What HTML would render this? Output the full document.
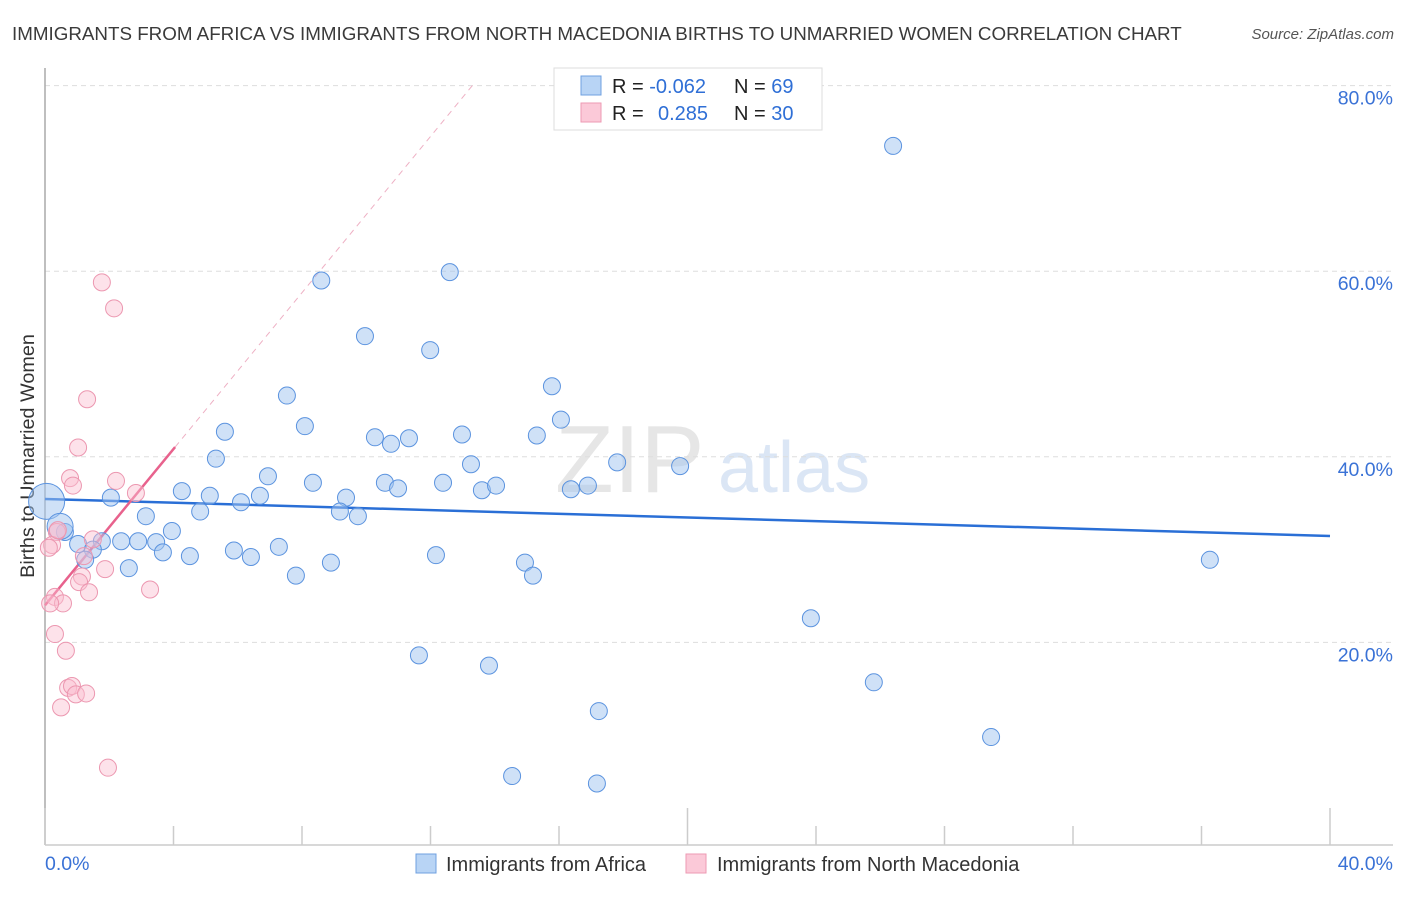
<!DOCTYPE html>
<html><head><meta charset="utf-8"><style>
body{margin:0;background:#fff;font-family:"Liberation Sans",sans-serif}
svg text{font-family:"Liberation Sans",sans-serif}
</style></head><body>
<svg id="chart" width="1406" height="892">
<text x="12" y="40" font-size="18.8" fill="#3a3a3a">IMMIGRANTS FROM AFRICA VS IMMIGRANTS FROM NORTH MACEDONIA BIRTHS TO UNMARRIED WOMEN CORRELATION CHART</text>
<text x="1394" y="39" font-size="15" fill="#555" text-anchor="end" font-style="italic">Source: ZipAtlas.com</text>
<text transform="translate(34,456) rotate(-90)" font-size="19.8" fill="#333" text-anchor="middle">Births to Unmarried Women</text>
<text x="555" y="492" font-size="96" fill="#e6e6e6" font-family="Liberation Serif">ZIP</text>
<text x="718" y="492" font-size="72" fill="#dbe6f5">atlas</text>
<g id="grid"></g><g id="axes"></g><g id="lines"></g><g id="pts"></g>
<g>
<rect x="554" y="68" width="268" height="62" fill="#fff" stroke="#ddd"/>
<rect x="581" y="76" width="20" height="19" fill="#b8d4f5" stroke="#6fa0e0"/>
<rect x="581" y="103" width="20" height="19" fill="#fbc9d8" stroke="#ee9ab3"/>
<text x="612" y="93" font-size="20" fill="#222">R = <tspan fill="#2f6fd6">-0.062</tspan><tspan x="734">N = </tspan><tspan fill="#2f6fd6">69</tspan></text>
<text x="612" y="120" font-size="20" fill="#222">R = <tspan x="658" fill="#2f6fd6">0.285</tspan><tspan x="734">N = </tspan><tspan fill="#2f6fd6">30</tspan></text>
</g>
<g>
<rect x="416" y="854" width="20" height="19" fill="#b8d4f5" stroke="#6fa0e0"/>
<text x="446" y="871" font-size="20" fill="#333">Immigrants from Africa</text>
<rect x="686" y="854" width="20" height="19" fill="#fbc9d8" stroke="#ee9ab3"/>
<text x="717" y="871" font-size="20" fill="#333">Immigrants from North Macedonia</text>
</g>
</svg>
<script>
const yTicks=[20,40,60,80];
const yTickLabels=["20.0%","40.0%","60.0%","80.0%"];
const xTicks=[0,4,8,12,16,20,24,28,32,36,40];
const xEdgeLabels=["0.0%","40.0%"];
const africaX=[26.4,8.6,12.6,9.96,11.99,7.53,15.78,16.06,5.6,8.09,10.27,10.77,11.33,12.98,15.31,5.32,13.26,17.81,19.77,6.94,8.34,10.58,10.99,12.39,13.6,14.04,16.37,16.9,4.26,5.13,6.1,6.69,9.37,9.18,9.74,2.05,3.14,4.83,3.95,0.62,1.03,1.77,2.37,2.9,3.46,3.67,4.51,5.88,6.41,7.28,1.49,1.25,2.61,8.9,7.81,12.17,14.94,15.19,36.26,23.84,11.64,13.82,25.8,17.24,29.45,14.54,17.18,0.05,0.47];
const africaY=[73.5,59.0,59.9,53.0,51.5,46.6,47.6,44.0,42.7,43.3,42.1,41.4,42.0,42.4,42.3,39.8,39.2,39.4,39.0,37.9,37.2,37.2,36.6,37.2,36.4,36.9,36.5,36.9,36.3,35.8,35.1,35.8,35.6,34.1,33.6,35.6,33.6,34.1,32.0,31.9,30.6,30.9,30.9,30.9,30.8,29.7,29.3,29.9,29.2,30.3,30.0,28.9,28.0,28.6,27.2,29.4,28.6,27.2,28.9,22.6,18.6,17.5,15.7,12.6,9.8,5.6,4.8,35.2,32.5];
const africaR=[8.5,8.5,8.5,8.5,8.5,8.5,8.5,8.5,8.5,8.5,8.5,8.5,8.5,8.5,8.5,8.5,8.5,8.5,8.5,8.5,8.5,8.5,8.5,8.5,8.5,8.5,8.5,8.5,8.5,8.5,8.5,8.5,8.5,8.5,8.5,8.5,8.5,8.5,8.5,8.5,8.5,8.5,8.5,8.5,8.5,8.5,8.5,8.5,8.5,8.5,8.5,8.5,8.5,8.5,8.5,8.5,8.5,8.5,8.5,8.5,8.5,8.5,8.5,8.5,8.5,8.5,8.5,18,13];
const macX=[1.77,2.15,1.31,1.03,0.78,0.87,2.21,2.83,0.37,0.22,0.12,1.49,1.21,1.87,1.15,1.06,1.37,3.27,0.31,0.56,0.16,0.31,0.65,0.72,0.84,0.96,1.28,0.5,1.96,0.4];
const macY=[58.8,56.0,46.2,41.0,37.7,36.9,37.4,36.1,31.9,30.5,30.2,31.1,29.3,27.9,27.1,26.5,25.4,25.7,24.9,24.2,24.2,20.9,19.1,15.1,15.3,14.4,14.5,13.0,6.5,32.1];
const blueFit=[35.45,31.47];
const pinkFit=[24.0,4.21];
const NS="http://www.w3.org/2000/svg";
const X=v=>45+v*32.125, Y=v=>828-v*9.28;
function mk(t,a,p){const e=document.createElementNS(NS,t);for(const k in a)e.setAttribute(k,a[k]);document.getElementById(p).appendChild(e);return e;}
yTicks.forEach((t,i)=>{
 const g=mk('line',{x1:45,x2:1393,y1:Y(t),y2:Y(t),stroke:'#ddd','stroke-dasharray':'5,4'},'grid');
 
 
 const tx=mk('text',{x:1393,y:Y(t)+19,'font-size':19.5,fill:'#3a72d6','text-anchor':'end'},'grid');tx.textContent=yTickLabels[i];
 
 
});
const ax=mk('line',{x1:45,x2:45,y1:68,y2:845,stroke:'#aaa','stroke-width':1.5},'axes');


const bx=mk('line',{x1:45,x2:1393,y1:845,y2:845,stroke:'#ccc','stroke-width':1.5},'axes');


xTicks.forEach((t,i)=>{
 const l=mk('line',{x1:X(t),x2:X(t),y1:(i%5==0)?808:826,y2:845,stroke:'#ccc','stroke-width':1.5},'axes');
 
 
});
[[0,'start'],[40,'end']].forEach((d,i)=>{
 const t=mk('text',{x:i?1393:45,y:870,'font-size':19.5,fill:'#3a72d6','text-anchor':d[1]},'axes');t.textContent=xEdgeLabels[i];
 
 
});
africaX.forEach((v,i)=>{
 const c=mk('circle',{cx:X(v),cy:Y(africaY[i]),r:africaR[i],fill:'rgba(160,196,240,0.5)',stroke:'#5b93df','stroke-width':1},'pts');
 
 
});
macX.forEach((v,i)=>{
 const c=mk('circle',{cx:X(v),cy:Y(macY[i]),r:8.5,fill:'rgba(250,190,208,0.45)',stroke:'#ec97b0','stroke-width':1},'pts');
 
 
});
const bl=mk('line',{x1:X(0),y1:Y(blueFit[0]),x2:X(40),y2:Y(blueFit[1]),stroke:'#2a6fd6','stroke-width':2.5},'lines');


const pl=mk('line',{x1:X(0),y1:Y(pinkFit[0]),x2:X(4.05),y2:Y(pinkFit[0]+pinkFit[1]*4.05),stroke:'#e8628d','stroke-width':2.5},'lines');


const xe=(80.4-pinkFit[0])/pinkFit[1];
const pd=mk('line',{x1:X(4.05),y1:Y(pinkFit[0]+pinkFit[1]*4.05),x2:X(xe),y2:Y(80.4),stroke:'#eeb0c4','stroke-width':1,'stroke-dasharray':'6,5'},'lines');


</script>
</body></html>
